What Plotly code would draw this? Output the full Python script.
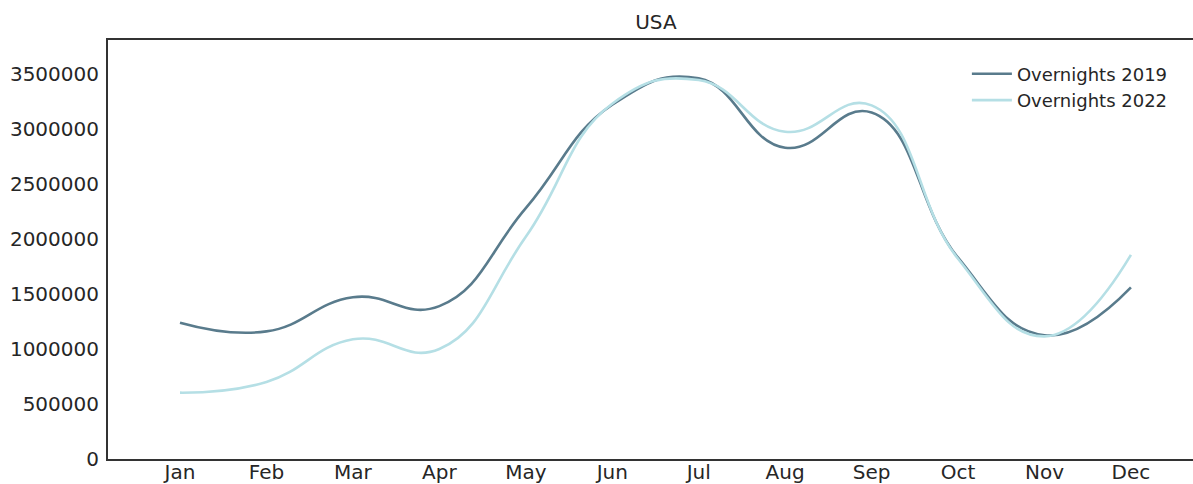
import plotly.graph_objects as go

months = ["Jan", "Feb", "Mar", "Apr", "May", "Jun", "Jul", "Aug", "Sep", "Oct", "Nov", "Dec"]
overnights_2019 = [1239000, 1160000, 1470000, 1390000, 2280000, 3220000, 3460000, 2830000, 3150000, 1830000, 1125000, 1560000]
overnights_2022 = [603000, 700000, 1088000, 1000000, 2020000, 3230000, 3445000, 2975000, 3215000, 1820000, 1115000, 1855000]
y_ticks = [0, 500000, 1000000, 1500000, 2000000, 2500000, 3000000, 3500000]

FONT = "DejaVu Sans"
W, H = 1193, 484

fig = go.Figure()
fig.add_trace(go.Scatter(x=months, y=overnights_2019, mode="lines", name="Overnights 2019",
                         line=dict(color="#597b8c", width=2.6, shape="spline", smoothing=1.3)))
fig.add_trace(go.Scatter(x=months, y=overnights_2022, mode="lines", name="Overnights 2022",
                         line=dict(color="#b5dfe5", width=2.6, shape="spline", smoothing=1.3)))

fig.update_layout(
    width=W, height=H,
    margin=dict(l=108, r=0, t=40, b=25, autoexpand=False),
    paper_bgcolor="white", plot_bgcolor="white",
    font=dict(family=FONT, color="#262626", size=20),
    title=dict(text="USA", x=0.505, xref="paper", xanchor="center",
               y=1 - 22 / H, yref="container", yanchor="middle",
               font=dict(family=FONT, size=20, color="#262626")),
    legend=dict(x=0.7916, y=0.963, xanchor="left", yanchor="top",
                bgcolor="rgba(0,0,0,0)", font=dict(family=FONT, size=18, color="#262626"),
                itemwidth=40, tracegroupgap=0),
    showlegend=True,
)
fig.update_xaxes(range=[-0.833, 11.718], showgrid=False, zeroline=False, automargin=False,
                 showline=True, linecolor="#333333", linewidth=2, mirror=True,
                 ticks="", ticklabelstandoff=-6,
                 tickfont=dict(family=FONT, size=20, color="#262626"))
fig.update_yaxes(range=[0, 3809000], showgrid=False, zeroline=False, automargin=False,
                 showline=True, linecolor="#333333", linewidth=2, mirror=False,
                 tickvals=y_ticks, ticktext=[str(v) for v in y_ticks],
                 ticks="", ticklabelstandoff=3,
                 tickfont=dict(family=FONT, size=20, color="#262626"))

fig.write_html("out.html", config={"displayModeBar": False},
               post_script="document.body.style.margin='0';document.body.style.overflow='hidden';")
